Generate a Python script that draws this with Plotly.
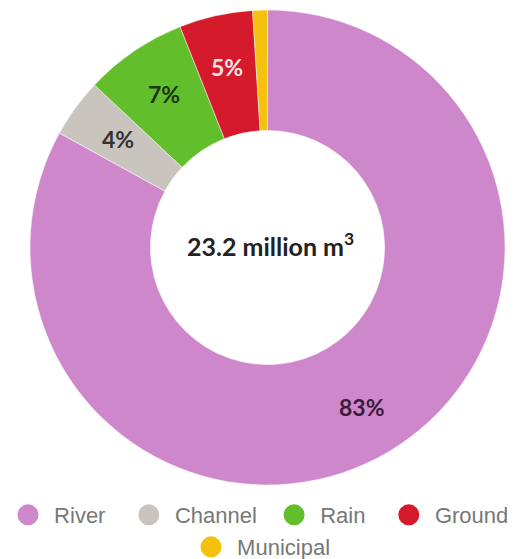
import math
import plotly.graph_objects as go

labels = ["River", "Channel", "Rain", "Ground", "Municipal"]
values = [83, 4, 7, 5, 1]
slice_text = ["83%", "4%", "7%", "5%", ""]
colors = ["#CF87CB", "#C9C4BD", "#63BE2C", "#D51B2B", "#F4C20D"]
text_colors = ["#3a1d3a", "#333333", "#1c3510", "#f6e3e3", "#333333"]
legend_rows = ["legend", "legend", "legend", "legend", "legend2"]
legend_pad = [3, 2, 3, 0, 0]
center_label = "23.2 million m<sup>3</sup>"

W, H = 515, 559
# pie placement (figure pixels)
cx, cy, R = 259.5, 239.5, 237.5
HOLE = 0.493
label_r = 185

fig = go.Figure()
fig.add_trace(go.Pie(
    labels=labels, values=values,
    textinfo="none",
    hole=HOLE, sort=False, direction="clockwise", rotation=0,
    marker=dict(colors=colors, line=dict(color="white", width=0.5)),
    domain=dict(x=[(cx - R) / W, (cx + R) / W], y=[1 - (cy + R) / H, 1 - (cy - R) / H]),
    showlegend=False, hoverinfo="label+percent",
))

# slice labels placed at the middle of each slice (angle from cumulative values)
total = sum(values)
cum = 0
for v, t, tc in zip(values, slice_text, text_colors):
    mid = (cum + v / 2) / total * 2 * math.pi
    cum += v
    if not t:
        continue
    px = cx + label_r * math.sin(mid)
    py = cy - label_r * math.cos(mid)
    fig.add_annotation(
        text=t, x=px / W, y=1 - py / H, xref="paper", yref="paper",
        showarrow=False, xanchor="center", yanchor="middle",
        font=dict(family="Lato", size=23, color=tc, weight="bold"),
    )

# legend entries with circle markers
for name, c, lg, p in zip(labels, colors, legend_rows, legend_pad):
    fig.add_trace(go.Scatter(
        x=[None], y=[None], mode="markers", name="\u00a0" + name + "\u00a0" * p,
        marker=dict(color=c, size=16, line=dict(color=c, width=5)),
        showlegend=True, hoverinfo="skip", legend=lg,
    ))

fig.add_annotation(
    text=center_label, x=262 / W, y=1 - 236 / H, xref="paper", yref="paper",
    showarrow=False, font=dict(family="Lato", size=25, color="#222222", weight="bold"),
)

legend_font = dict(family="Liberation Sans, Arial", size=22, color="#777777")
fig.update_layout(
    width=W, height=H,
    margin=dict(l=0, r=0, t=0, b=0, autoexpand=False),
    paper_bgcolor="white", plot_bgcolor="white",
    xaxis=dict(visible=False), yaxis=dict(visible=False),
    legend=dict(
        orientation="h", x=0, xanchor="left",
        y=1 - 507 / H, yanchor="middle",
        font=legend_font, itemclick=False,
    ),
    legend2=dict(
        orientation="h", x=183 / W, xanchor="left",
        y=1 - 539 / H, yanchor="middle",
        font=legend_font, itemclick=False,
    ),
)

fig.write_html("out.html")
